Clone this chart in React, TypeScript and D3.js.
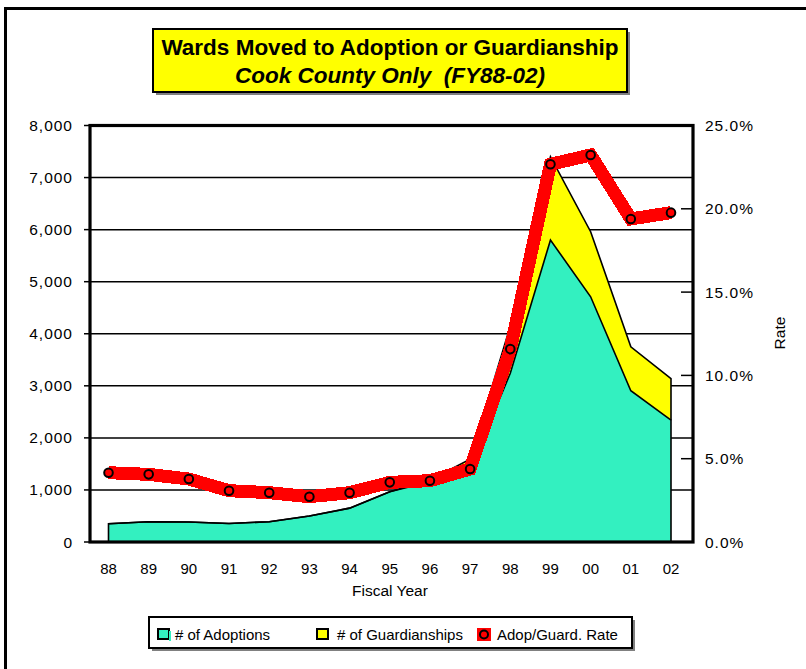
import React from 'react';
import * as d3 from 'd3';

const years = ['88', '89', '90', '91', '92', '93', '94', '95', '96', '97', '98', '99', '00', '01', '02'];
const adoptions = [350, 390, 385, 355, 390, 500, 650, 965, 1160, 1400, 3240, 5800, 4710, 2905, 2340];
const guardianships = [0, 0, 0, 0, 0, 0, 0, 0, 30, 190, 910, 1600, 1250, 845, 800];
const rates = [4.16, 4.06, 3.78, 3.08, 2.96, 2.72, 2.96, 3.58, 3.68, 4.38, 11.58, 22.67, 23.23, 19.39, 19.77];
const leftTicks = [0, 1000, 2000, 3000, 4000, 5000, 6000, 7000, 8000];
const rightTicks = [0, 5, 10, 15, 20, 25];

const W = 806;
const H = 669;
const PL = 90, PR = 693, PT = 125.5, PB = 542;

export default function App() {
  const x = d3.scalePoint<string>().domain(years).range([108.5, 671]);
  const y = d3.scaleLinear().domain([0, 8000]).range([PB, PT]);
  const yr = d3.scaleLinear().domain([0, 25]).range([PB, PT]);

  const rows = years.map((yy, i) => ({ yy, a: adoptions[i], g: guardianships[i], r: rates[i] }));
  const areaA = d3.area<any>().x(d => x(d.yy)!).y0(y(0)).y1(d => y(d.a));
  const areaG = d3.area<any>().x(d => x(d.yy)!).y0(d => y(d.a)).y1(d => y(d.a + d.g));
  const areaTotOutline = d3.line<any>().x(d => x(d.yy)!).y(d => y(d.a + d.g));
  const lineR = d3.line<any>().x(d => x(d.yy)!).y(d => yr(d.r));

  const fmt = d3.format(',');
  const font = 'Arial, "Liberation Sans", Helvetica, sans-serif';
  const teal = '#33F0C0';

  const first = rows[0], last = rows[rows.length - 1];
  const tealOutline = `M${x(first.yy)},${y(0)}L${x(first.yy)},${y(first.a)}` +
    (d3.line<any>().x(d => x(d.yy)!).y(d => y(d.a))(rows) as string).replace(/^M/, 'L') +
    `L${x(last.yy)},${y(0)}`;
  const totOutline = (areaTotOutline(rows) as string) + `L${x(last.yy)},${y(last.a)}`;

  return (
    <svg width={W} height={H} style={{ position: 'absolute', left: 0, top: 0, background: '#fff' }} fontFamily={font}>
      <rect x={0} y={0} width={W} height={H} fill="#fff" />
      {/* outer frame */}
      <path d={`M5.5,${H + 5}L5.5,8.5L${W + 5},8.5`} fill="none" stroke="#000" strokeWidth={3} />

      {/* title box */}
      <rect x={156} y={32} width={474} height={63} fill="#808080" />
      <rect x={153} y={29} width={474} height={63} fill="#FFFF00" stroke="#000" strokeWidth={2} />
      <text x={390} y={55} textAnchor="middle" fontSize={22.5} fontWeight="bold">Wards Moved to Adoption or Guardianship</text>
      <text x={390} y={83} textAnchor="middle" fontSize={22.5} fontWeight="bold" fontStyle="italic" xmlSpace="preserve">Cook County Only  (FY88-02)</text>

      {/* gridlines */}
      {leftTicks.map(t => (
        <line key={'g' + t} x1={PL} x2={PR} y1={y(t)} y2={y(t)} stroke="#000" strokeWidth={1.5} />
      ))}

      {/* areas */}
      <path d={areaG(rows) as string} fill="#FFFF00" />
      <path d={areaA(rows) as string} fill={teal} />
      <path d={totOutline} fill="none" stroke="#000" strokeWidth={1.6} />
      <path d={tealOutline} fill="none" stroke="#000" strokeWidth={1.6} />

      {/* plot frame */}
      <rect x={PL} y={PT} width={PR - PL} height={PB - PT} fill="none" stroke="#000" strokeWidth={3.2} />

      {/* left ticks */}
      {leftTicks.map(t => (
        <g key={'l' + t}>
          <line x1={PL - 6} x2={PL} y1={y(t)} y2={y(t)} stroke="#000" strokeWidth={1.5} />
          <text x={73} y={y(t) + 5.5} textAnchor="end" fontSize={15.5} letterSpacing={1}>{fmt(t)}</text>
        </g>
      ))}
      {/* right ticks */}
      {rightTicks.map(t => (
        <g key={'r' + t}>
          <line x1={PR - 12} x2={PR} y1={yr(t)} y2={yr(t)} stroke="#000" strokeWidth={1.5} />
          <text x={705} y={yr(t) + 5.5} fontSize={15.5} letterSpacing={1}>{t.toFixed(1) + '%'}</text>
        </g>
      ))}
      {/* x labels */}
      {years.map(yy => (
        <text key={'x' + yy} x={x(yy)} y={574} textAnchor="middle" fontSize={15}>{yy}</text>
      ))}
      <text x={390} y={596} textAnchor="middle" fontSize={15.5}>Fiscal Year</text>
      <text transform="translate(785,333) rotate(-90)" textAnchor="middle" fontSize={15.5}>Rate</text>

      {/* rate line */}
      <path d={lineR(rows) as string} fill="none" stroke="#FF0000" strokeWidth={13} strokeLinejoin="miter" shapeRendering="crispEdges" />
      {rows.map(d => (
        <circle key={'c' + d.yy} cx={x(d.yy)} cy={yr(d.r)} r={4.3} fill="#FF0000" stroke="#000" strokeWidth={2} />
      ))}

      {/* legend */}
      <rect x={152} y={620} width={483} height={31} fill="#808080" />
      <rect x={149} y={617} width={483} height={31} fill="#fff" stroke="#000" strokeWidth={2} />
      <rect x={158} y={629} width={11} height={10} fill={teal} stroke="#000" strokeWidth={2} />
      <rect x={169} y={631} width={2} height={10} fill={teal} />
      <text x={175} y={640} fontSize={15}># of Adoptions</text>
      <rect x={317} y={629} width={11} height={10} fill="#FFFF00" stroke="#000" strokeWidth={2} />
      <text x={337} y={640} fontSize={15}># of Guardianships</text>
      <rect x={477} y={628} width={14} height={13} fill="#FF0000" />
      <circle cx={484} cy={634.5} r={4} fill="#FF0000" stroke="#000" strokeWidth={2} />
      <text x={497} y={640} fontSize={15}>Adop/Guard. Rate</text>
    </svg>
  );
}
